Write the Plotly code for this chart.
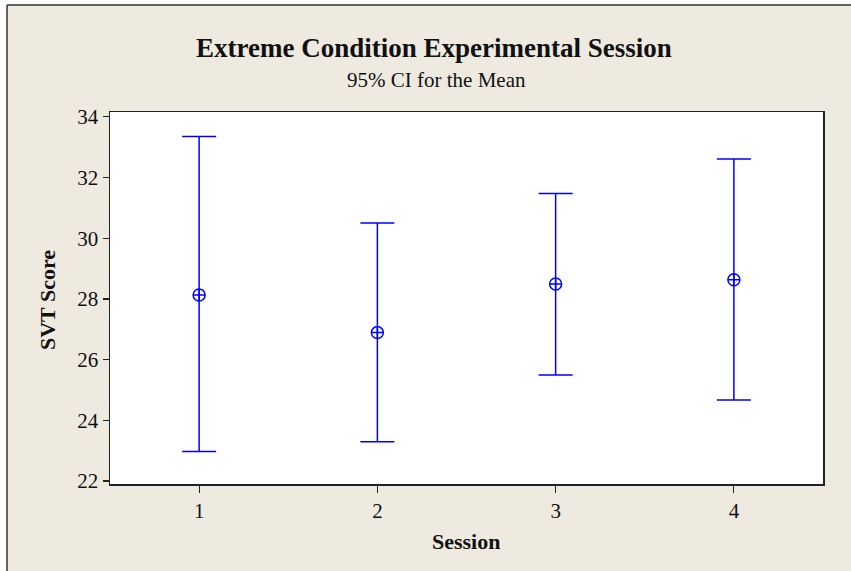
import plotly.graph_objects as go

sessions = [1, 2, 3, 4]
means = [28.13, 26.89, 28.49, 28.63]
lower = [22.97, 23.29, 25.49, 24.67]
upper = [33.35, 30.50, 31.47, 32.61]
y_ticks = [22, 24, 26, 28, 30, 32, 34]

BLUE = "#0000FF"
BEIGE = "#EEEAE0"
SERIF = "Liberation Serif, Times New Roman, serif"

W, H = 851, 571
L, R, T, B = 110, 28, 112, 87
pw, ph = W - L - R, H - T - B


def px(x):
    return (x - L) / pw


def py(y):
    return (H - B - y) / ph


err_plus = [u - m for u, m in zip(upper, means)]
err_minus = [m - l for m, l in zip(means, lower)]

fig = go.Figure()
fig.add_trace(go.Scatter(
    x=sessions, y=means, mode="markers",
    marker=dict(symbol="circle-cross-open", size=12, color=BLUE,
                line=dict(color=BLUE, width=1.5)),
    error_y=dict(type="data", symmetric=False, array=err_plus,
                 arrayminus=err_minus, color=BLUE, thickness=1.5, width=17),
    showlegend=False, hoverinfo="skip",
))

fig.update_layout(
    width=W, height=H,
    margin=dict(l=L, r=R, t=T, b=B, pad=0),
    paper_bgcolor=BEIGE, plot_bgcolor="white",
    font=dict(family=SERIF, size=21, color="#111"),
    xaxis=dict(range=[0.5, 4.5], tickvals=sessions, ticktext=[str(s) for s in sessions],
               showgrid=False, zeroline=False, showline=True, linecolor="#222",
               linewidth=1.5, mirror=True, ticks="outside", ticklen=7,
               tickcolor="#222", tickwidth=1.2, tickfont=dict(size=21)),
    yaxis=dict(range=[21.9, 34.16], tickvals=y_ticks,
               showgrid=False, zeroline=False, showline=True, linecolor="#222",
               linewidth=1.5, mirror=True, ticks="outside", ticklen=6,
               tickcolor="#222", tickwidth=1.2, tickfont=dict(size=21)),
    annotations=[
        dict(text="<b>Extreme Condition Experimental Session</b>", x=px(434), y=py(48),
             xref="paper", yref="paper", xanchor="center", yanchor="middle",
             showarrow=False, font=dict(size=27, family=SERIF, color="#111")),
        dict(text="95% CI for the Mean", x=px(436), y=py(80),
             xref="paper", yref="paper", xanchor="center", yanchor="middle",
             showarrow=False, font=dict(size=21, family=SERIF, color="#111")),
        dict(text="<b>Session</b>", x=px(466), y=py(541),
             xref="paper", yref="paper", xanchor="center", yanchor="middle",
             showarrow=False, font=dict(size=22, family=SERIF, color="#111")),
        dict(text="<b>SVT Score</b>", x=px(47), y=py(300), textangle=-90,
             xref="paper", yref="paper", xanchor="center", yanchor="middle",
             showarrow=False, font=dict(size=22, family=SERIF, color="#111")),
    ],
    shapes=[
        dict(type="rect", xref="paper", yref="paper", layer="above",
             x0=px(-5), x1=px(W + 5), y0=py(5), y1=py(-5),
             fillcolor="white", line=dict(width=0)),
        dict(type="rect", xref="paper", yref="paper", layer="above",
             x0=px(-5), x1=px(7), y0=py(H + 5), y1=py(-5),
             fillcolor="white", line=dict(width=0)),
        dict(type="line", xref="paper", yref="paper", layer="above",
             x0=px(7), x1=px(W + 5), y0=py(5), y1=py(5),
             line=dict(color="#333", width=1.5)),
        dict(type="line", xref="paper", yref="paper", layer="above",
             x0=px(7), x1=px(7), y0=py(5), y1=py(H + 5),
             line=dict(color="#333", width=1.5)),
    ],
)

fig.write_html("out.html",
               config={"displayModeBar": False, "staticPlot": True},
               post_script="document.body.style.margin='0';document.body.style.overflow='hidden';")
